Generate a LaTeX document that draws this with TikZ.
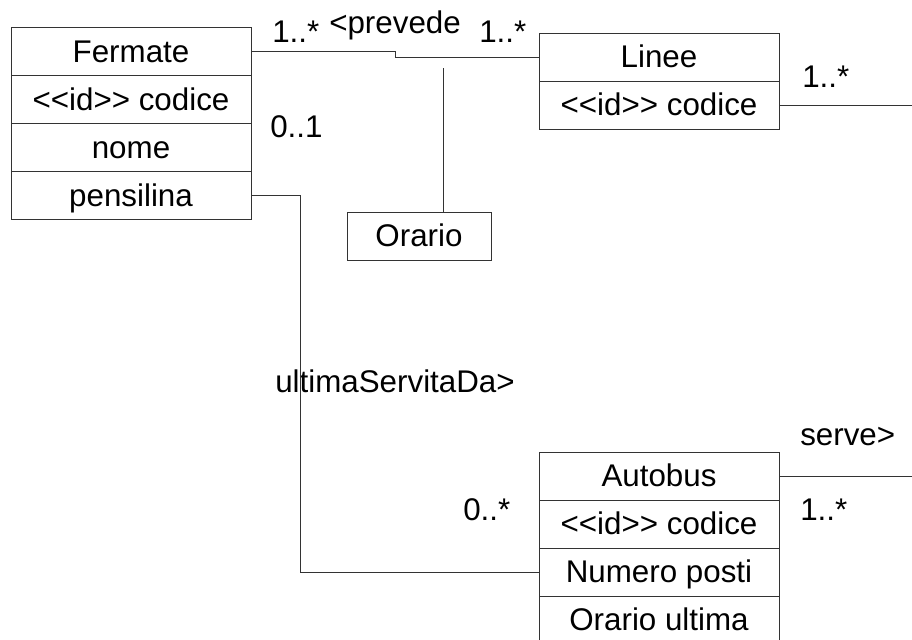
\documentclass[tikz,border=0pt]{standalone}
\usepackage{fontspec}
\setmainfont{Liberation Sans}
\begin{document}
\begin{tikzpicture}[x=0.75pt,y=-0.75pt,
  row/.style={draw=black!80, line width=0.75pt, rectangle, inner sep=0pt, minimum width=180pt, minimum height=36pt, text height=17pt, text depth=1pt, font=\fontsize{23.5}{28}\selectfont},
  lbl/.style={anchor=base west, inner sep=0pt, font=\fontsize{23.5}{28}\selectfont},
  link/.style={draw=black!80, line width=0.75pt}]
  \useasboundingbox (0,0) rectangle (912,639);

  % Fermate
  \node[row] (fermate) at (131,51.5) {Fermate};
  \node[row] (fermateCod) at (131,99.5) {<\kern0pt<id>\kern0pt> codice};
  \node[row] (nome) at (131,147.5) {nome};
  \node[row] (pensilina) at (131,195.5) {pensilina};

  % Linee
  \node[row] (linee) at (659,57) {Linee};
  \node[row] (lineeCod) at (659,105) {<\kern0pt<id>\kern0pt> codice};

  % Orario
  \node[row, minimum width=108pt] (orario) at (419,236) {Orario};

  % Autobus
  \node[row] (autobus) at (659,476) {Autobus};
  \node[row] (autobusCod) at (659,524) {<\kern0pt<id>\kern0pt> codice};
  \node[row] (numero) at (659,572) {Numero posti};
  \node[row] (orarioUlt) at (659,620) {Orario ultima};

  % labels
  \node[lbl] (multFerPrev) at (272,42) {1..*};
  \node[lbl] (prevede) at (329,33) {<prevede};
  \node[lbl] (multLinPrev) at (479,42) {1..*};
  \node[lbl] (multLinServe) at (802,87) {1..*};
  \node[lbl] (multFerUlt) at (270,137) {0..1};
  \node[lbl] (ultima) at (275,392) {ultimaServitaDa>};
  \node[lbl] (serve) at (800,445) {serve>};
  \node[lbl] (multAutUlt) at (463,520) {0..*};
  \node[lbl] (multAutServe) at (800,520) {1..*};

  % associations
  \coordinate (stepx) at (395,0);
  \draw[link] (fermate.east) -- (fermate.east -| stepx) -- (linee.west -| stepx) -- (linee.west);
  \coordinate (classAssoc) at (443,68);
  \draw[link] (classAssoc) -- (classAssoc |- orario.north);
  \coordinate (bend) at (300,572);
  \draw[link] (pensilina.east) -| (bend) -- (numero.west);
  \coordinate (lineeEnd) at (912,106);
  \draw[link] (lineeCod.east) -- (lineeCod.east -| lineeEnd);
  \coordinate (autoEnd) at (912,476);
  \draw[link] (autobus.east) -- (autobus.east -| autoEnd);
\end{tikzpicture}
\end{document}
